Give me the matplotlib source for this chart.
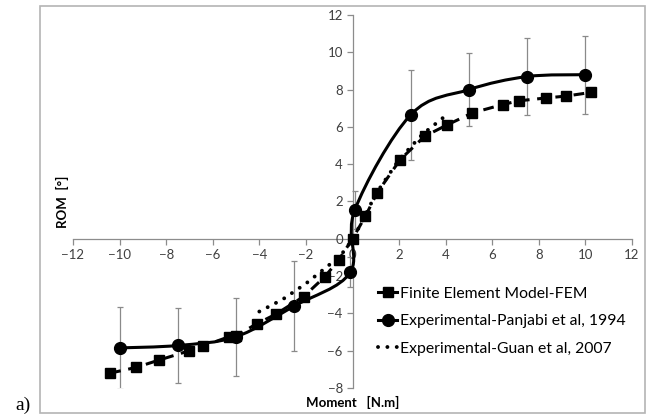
import numpy as np
import matplotlib
matplotlib.use('Agg')
import matplotlib.pyplot as plt
from matplotlib.path import Path
from matplotlib.patches import PathPatch, Rectangle
from matplotlib.lines import Line2D

# ─── Data ───────────────────────────────────────────────────────────────
fem_moment = [-10.4, -9.3, -8.3, -7.0, -6.4, -5.3, -5.0, -4.1, -3.3, -2.1, -1.2, -0.6,
              0.0, 0.55, 1.05, 2.05, 3.1, 4.05, 5.15, 6.45, 7.15, 8.3, 9.15, 10.25]
fem_rom = [-7.2, -6.9, -6.5, -6.0, -5.75, -5.25, -5.2, -4.55, -4.05, -3.1, -2.05, -1.15,
           0.0, 1.2, 2.45, 4.25, 5.5, 6.1, 6.75, 7.2, 7.4, 7.55, 7.65, 7.85]

pan_moment = [-10, -7.5, -5, -2.5, -0.1, 0.1, 2.5, 5, 7.5, 10]
pan_rom = [-5.85, -5.72, -5.25, -3.6, -1.8, 1.55, 6.65, 8.0, 8.7, 8.8]
pan_sd = [2.2, 2.0, 2.1, 2.4, 0.8, 1.0, 2.4, 1.95, 2.05, 2.1]

guan_moment = [-4, -3, -2, -1, -0.3, 0.3, 1, 2, 3, 4]
guan_rom = [-3.9, -3.25, -2.4, -1.4, -0.6, 0.65, 2.4, 4.25, 5.6, 6.6]

x_ticks = list(range(-12, 13, 2))
y_ticks = list(range(-8, 13, 2))

labels = ['Finite Element Model-FEM',
          'Experimental-Panjabi et al, 1994',
          'Experimental-Guan et al, 2007']

plt.rcParams['font.family'] = ['Lato', 'DejaVu Sans']


def smooth_path(xs, ys):
    # Catmull-Rom -> cubic Bezier (like Excel's "smoothed line")
    p = np.column_stack([xs, ys]).astype(float)
    verts = [p[0]]
    codes = [Path.MOVETO]
    n = len(p)
    for i in range(n - 1):
        p0 = p[i - 1] if i > 0 else p[i]
        p1, p2 = p[i], p[i + 1]
        p3 = p[i + 2] if i + 2 < n else p[i + 1]
        c1 = p1 + (p2 - p0) / 6.0
        c2 = p2 - (p3 - p1) / 6.0
        verts += [c1, c2, p2]
        codes += [Path.CURVE4] * 3
    return Path(verts, codes)


fig = plt.figure(figsize=(6.49, 4.17), dpi=100)
ax = fig.add_axes([73 / 649, 29 / 417, 559 / 649, 373 / 417])

grey = '#8c8c8c'
txt = '#404040'

# error bars
ax.errorbar(pan_moment, pan_rom, yerr=pan_sd, fmt='none', ecolor='#8a8a8a',
            elinewidth=0.9, capsize=2.5, capthick=0.9, zorder=2)

# FEM
ax.plot(fem_moment, fem_rom, color='black', lw=2.2, linestyle=(0, (3.5, 2.5)),
        marker='s', markersize=7.5, zorder=3)

# Guan
ax.plot(guan_moment, guan_rom, color='black', lw=2.8, linestyle=(0, (0.01, 2.4)),
        dash_capstyle='round', zorder=3)

# Panjabi (smooth curve + markers)
ax.add_patch(PathPatch(smooth_path(pan_moment, pan_rom), facecolor='none',
                       edgecolor='black', lw=2.2, zorder=4))
ax.plot(pan_moment, pan_rom, linestyle='none', marker='o', markersize=8.5,
        color='black', zorder=5)

ax.set_xlim(-12, 12)
ax.set_ylim(-8, 12)
ax.set_xticks(x_ticks)
ax.set_yticks(y_ticks)

for side in ['top', 'right']:
    ax.spines[side].set_visible(False)
ax.spines['left'].set_position(('data', 0))
ax.spines['bottom'].set_position(('data', 0))
for side in ['left', 'bottom']:
    ax.spines[side].set_color(grey)
    ax.spines[side].set_linewidth(0.9)
    ax.spines[side].set_zorder(1)
ax.tick_params(axis='both', direction='out', length=4, width=0.9, color=grey,
               labelcolor=txt, labelsize=9.5, pad=3)
ax.patch.set_visible(False)

handles = [
    Line2D([], [], color='black', lw=2.2, marker='s', markersize=7.5),
    Line2D([], [], color='black', lw=2.2, marker='o', markersize=8.5),
    Line2D([], [], color='black', lw=2.8, linestyle=(0, (0.01, 2.4)), dash_capstyle='round'),
]
ax.legend(handles, labels, loc='upper left', bbox_to_anchor=(0.535, 0.288),
          frameon=False, fontsize=11.3, handlelength=1.2, handletextpad=0.15,
          labelspacing=0.85, borderaxespad=0)

fig.text(62 / 649, 1 - 202 / 417, 'ROM  [°]', rotation=90, ha='center', va='center',
         fontsize=9.5, fontweight='bold', color='black')
fig.text(353 / 649, 1 - 402 / 417, 'Moment   [N.m]', ha='center', va='center',
         fontsize=9.5, fontweight='bold', color='black')
fig.text(15 / 649, 1 - 405 / 417, 'a)', ha='left', va='center', fontsize=14,
         family='Liberation Serif', color='black')

fig.add_artist(Rectangle((40 / 649, 4 / 417), 605 / 649, 407 / 417,
                         transform=fig.transFigure, fill=False,
                         edgecolor='#b4b4b4', lw=1.2))

fig.savefig('out.png', dpi=100)
